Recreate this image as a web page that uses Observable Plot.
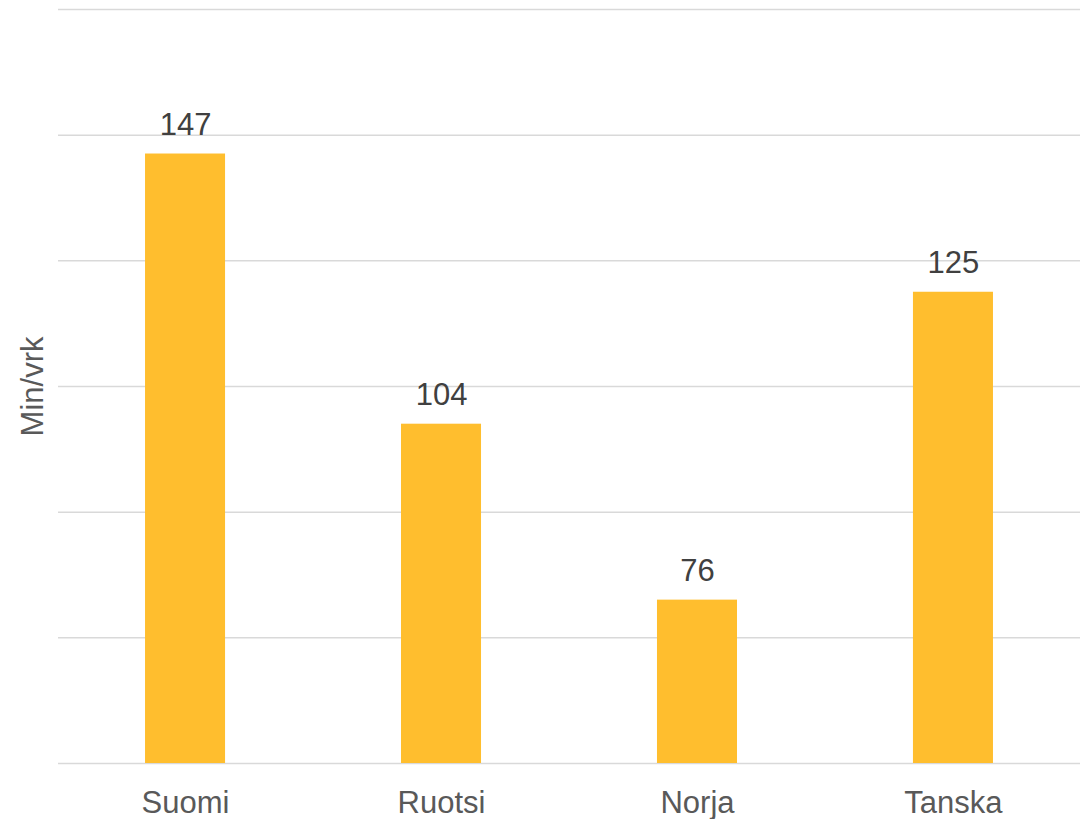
<!DOCTYPE html>
<html>
<head>
<meta charset="utf-8">
<script src="https://cdn.jsdelivr.net/npm/d3@7"></script>
<script src="https://cdn.jsdelivr.net/npm/@observablehq/plot@0.6"></script>
<style>
  html, body { margin: 0; padding: 0; background: #ffffff; }
  #chart { width: 1081px; height: 819px; }
</style>
</head>
<body>
<div id="chart"></div>
<script>
const countries = ["Suomi", "Ruotsi", "Norja", "Tanska"];
const values = [147, 104, 76, 125];
const gridTicks = [50, 70, 90, 110, 130, 150, 170];
const yLabel = "Min/vrk";

const data = countries.map((c, i) => ({country: c, value: values[i]}));

const chart = Plot.plot({
  width: 1081,
  height: 819,
  marginLeft: 58,
  marginRight: 1,
  marginTop: 9,
  marginBottom: 56,
  style: {fontFamily: "'Liberation Sans', Arial, sans-serif", background: "#ffffff"},
  x: {domain: countries, paddingInner: 0.6874, paddingOuter: 0.34, round: false, label: null},
  y: {domain: [50, 170], label: null},
  marks: [
    Plot.ruleY(gridTicks, {stroke: "#d9d9d9", strokeWidth: 1.5}),
    Plot.barY(data, {x: "country", y1: 50, y2: "value", fill: "#FFBE2E"}),
    Plot.text(data, {x: "country", y: "value", text: d => String(d.value), dy: -19, lineAnchor: "bottom", fontSize: 31, fill: "#404040"}),
    Plot.axisX({tickSize: 0, tickPadding: 27, fontSize: 31, color: "#595959", label: null}),
    Plot.axisY({ticks: [], tickSize: 0, label: yLabel, labelAnchor: "center", labelArrow: "none", labelOffset: 38, fontSize: 31, color: "#595959"})
  ]
});
document.getElementById("chart").appendChild(chart);
</script>
</body>
</html>
